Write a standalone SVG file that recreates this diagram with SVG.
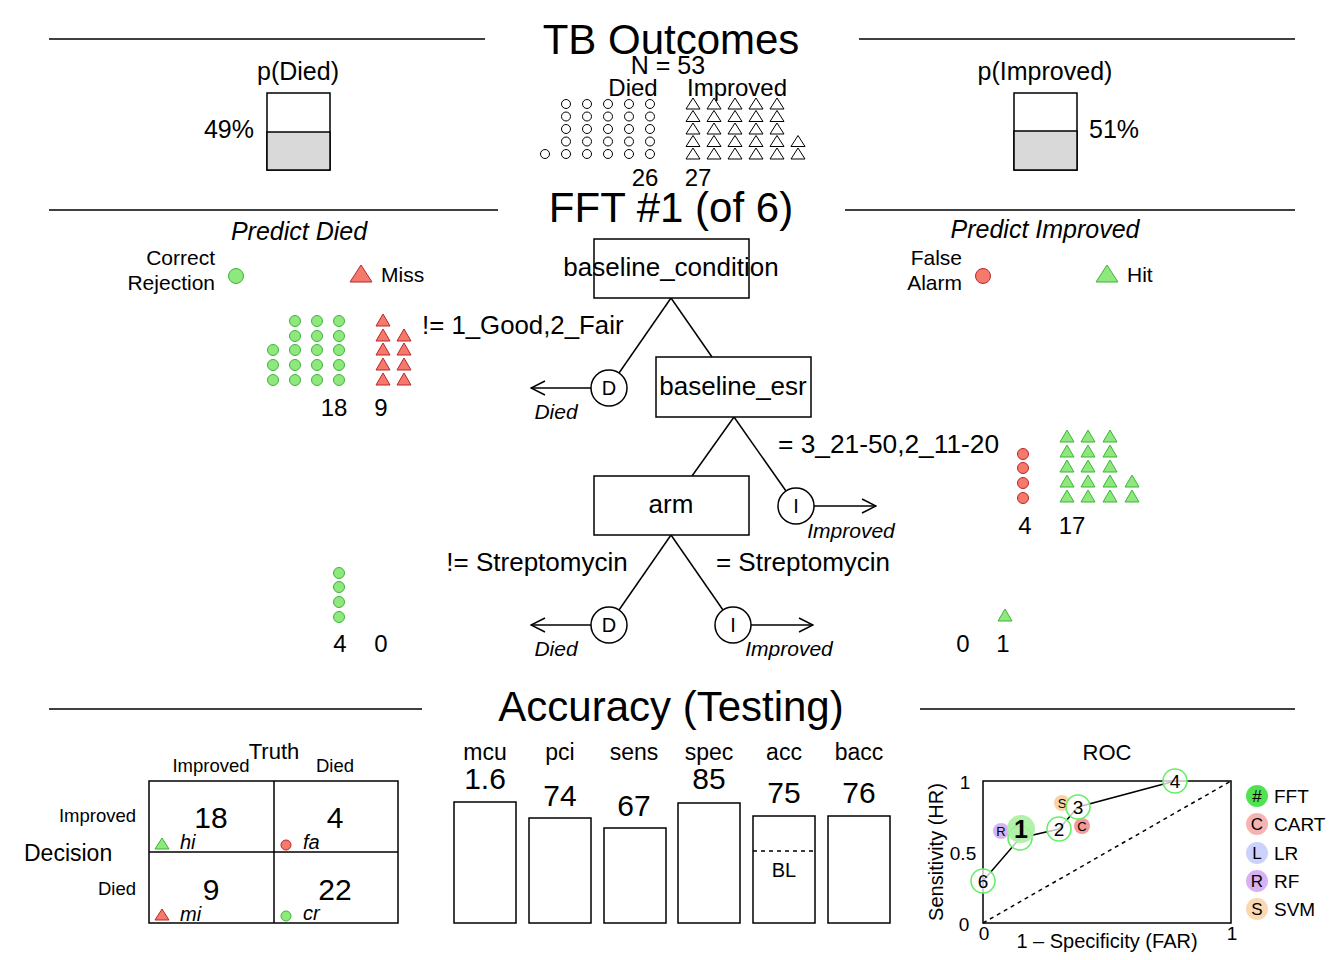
<svg xmlns="http://www.w3.org/2000/svg" width="1344" height="960" viewBox="0 0 1344 960">
<style>
text{font-family:"Liberation Sans",Arial,sans-serif;fill:#000}
.t42{font-size:42px;text-anchor:middle}
.m{text-anchor:middle}
.e{text-anchor:end}
.it{font-style:italic}
.rule{stroke:#000;stroke-width:1.5}
.box{fill:#fff;stroke:#000;stroke-width:1.5}
.ln{stroke:#000;stroke-width:1.5;fill:none}
.wc{fill:#fff;stroke:#000;stroke-width:1}
.g{fill:#8ee87b;stroke:#3db43d;stroke-width:1}
.r{fill:#f57a6c;stroke:#b8262a;stroke-width:1}
.fft{fill:#fff;fill-opacity:0.75;stroke:#66ee66;stroke-width:1.6}
</style>
<defs>
<circle id="oc" r="4.5"/>
<path id="ot" d="M0,-6 L7,5 L-7,5 Z"/>
<circle id="c5" r="5.5"/>
<path id="t7" d="M0,-7 L7,5 L-7,5 Z"/>
<marker id="ah" markerWidth="16" markerHeight="16" refX="15" refY="8" orient="auto" markerUnits="userSpaceOnUse">
<path d="M1,1 L15,8 L1,15" fill="none" stroke="#000" stroke-width="1.5"/>
</marker>
</defs>

<!-- TB Outcomes header -->
<g id="header">
<line class="rule" x1="49" y1="39" x2="485" y2="39"/>
<line class="rule" x1="859" y1="39" x2="1295" y2="39"/>
<text class="t42" x="671" y="54">TB Outcomes</text>
<text class="m" x="668" y="74" font-size="25">N = 53</text>
<text class="m" x="633" y="96" font-size="24">Died</text>
<text class="m" x="737" y="96" font-size="24">Improved</text>
<text class="m" x="645" y="186" font-size="24">26</text>
<text class="m" x="698" y="186" font-size="24">27</text>
</g>

<g id="died-icons" class="wc">
<use href="#oc" x="566" y="104"/><use href="#oc" x="566" y="116.5"/><use href="#oc" x="566" y="129"/><use href="#oc" x="566" y="141.5"/><use href="#oc" x="566" y="154"/>
<use href="#oc" x="587" y="104"/><use href="#oc" x="587" y="116.5"/><use href="#oc" x="587" y="129"/><use href="#oc" x="587" y="141.5"/><use href="#oc" x="587" y="154"/>
<use href="#oc" x="608" y="104"/><use href="#oc" x="608" y="116.5"/><use href="#oc" x="608" y="129"/><use href="#oc" x="608" y="141.5"/><use href="#oc" x="608" y="154"/>
<use href="#oc" x="629" y="104"/><use href="#oc" x="629" y="116.5"/><use href="#oc" x="629" y="129"/><use href="#oc" x="629" y="141.5"/><use href="#oc" x="629" y="154"/>
<use href="#oc" x="650" y="104"/><use href="#oc" x="650" y="116.5"/><use href="#oc" x="650" y="129"/><use href="#oc" x="650" y="141.5"/><use href="#oc" x="650" y="154"/>
<use href="#oc" x="545" y="154"/>
</g>
<g id="improved-icons" class="wc">
<use href="#ot" x="693" y="104"/><use href="#ot" x="693" y="116.5"/><use href="#ot" x="693" y="129"/><use href="#ot" x="693" y="141.5"/><use href="#ot" x="693" y="154"/>
<use href="#ot" x="714" y="104"/><use href="#ot" x="714" y="116.5"/><use href="#ot" x="714" y="129"/><use href="#ot" x="714" y="141.5"/><use href="#ot" x="714" y="154"/>
<use href="#ot" x="735" y="104"/><use href="#ot" x="735" y="116.5"/><use href="#ot" x="735" y="129"/><use href="#ot" x="735" y="141.5"/><use href="#ot" x="735" y="154"/>
<use href="#ot" x="756" y="104"/><use href="#ot" x="756" y="116.5"/><use href="#ot" x="756" y="129"/><use href="#ot" x="756" y="141.5"/><use href="#ot" x="756" y="154"/>
<use href="#ot" x="777" y="104"/><use href="#ot" x="777" y="116.5"/><use href="#ot" x="777" y="129"/><use href="#ot" x="777" y="141.5"/><use href="#ot" x="777" y="154"/>
<use href="#ot" x="798" y="141.5"/><use href="#ot" x="798" y="154"/>
</g>

<g id="p-died">
<text class="m" x="298" y="80" font-size="25">p(Died)</text>
<rect class="box" x="267" y="93" width="63" height="77"/>
<rect x="267" y="132" width="63" height="38" fill="#d9d9d9" stroke="#000" stroke-width="1.5"/>
<text class="e" x="254" y="138" font-size="25">49%</text>
</g>
<g id="p-improved">
<text class="m" x="1045" y="80" font-size="25">p(Improved)</text>
<rect class="box" x="1014" y="93" width="63" height="77"/>
<rect x="1014" y="131" width="63" height="39" fill="#d9d9d9" stroke="#000" stroke-width="1.5"/>
<text x="1089" y="138" font-size="25">51%</text>
</g>

<!-- FFT header -->
<g id="fft-header">
<line class="rule" x1="49" y1="210" x2="498" y2="210"/>
<line class="rule" x1="845" y1="210" x2="1295" y2="210"/>
<text class="t42" x="671" y="222">FFT #1 (of 6)</text>
<text class="m it" x="299" y="240" font-size="25">Predict Died</text>
<text class="m it" x="1045" y="238" font-size="25">Predict Improved</text>
</g>

<g id="legend-left">
<text class="e" x="215" y="265" font-size="21">Correct</text>
<text class="e" x="215" y="290" font-size="21">Rejection</text>
<circle class="g" cx="236" cy="276" r="7.5"/>
<path class="r" d="M361,265 L372,282 L350,282 Z"/>
<text x="381" y="282" font-size="21">Miss</text>
</g>
<g id="legend-right">
<text class="e" x="962" y="265" font-size="21">False</text>
<text class="e" x="962" y="290" font-size="21">Alarm</text>
<circle class="r" cx="983" cy="276" r="7.5"/>
<path class="g" d="M1107,265 L1118,282 L1096,282 Z"/>
<text x="1127" y="282" font-size="21">Hit</text>
</g>

<!-- level 1 icons (left) -->
<g id="level1-icons">
<g class="g">
<use href="#c5" x="273" y="350"/><use href="#c5" x="273" y="365"/><use href="#c5" x="273" y="380"/>
<use href="#c5" x="295" y="321"/><use href="#c5" x="295" y="336"/><use href="#c5" x="295" y="350"/><use href="#c5" x="295" y="365"/><use href="#c5" x="295" y="380"/>
<use href="#c5" x="317" y="321"/><use href="#c5" x="317" y="336"/><use href="#c5" x="317" y="350"/><use href="#c5" x="317" y="365"/><use href="#c5" x="317" y="380"/>
<use href="#c5" x="339" y="321"/><use href="#c5" x="339" y="336"/><use href="#c5" x="339" y="350"/><use href="#c5" x="339" y="365"/><use href="#c5" x="339" y="380"/>
</g>
<g class="r">
<use href="#t7" x="383" y="321"/><use href="#t7" x="383" y="336"/><use href="#t7" x="383" y="350"/><use href="#t7" x="383" y="365"/><use href="#t7" x="383" y="380"/>
<use href="#t7" x="404" y="336"/><use href="#t7" x="404" y="350"/><use href="#t7" x="404" y="365"/><use href="#t7" x="404" y="380"/>
</g>
<text class="m" x="334" y="416" font-size="24">18</text>
<text class="m" x="381" y="416" font-size="24">9</text>
</g>

<!-- level 2 icons (right) -->
<g id="level2-icons">
<g class="r">
<use href="#c5" x="1023" y="454"/><use href="#c5" x="1023" y="468"/><use href="#c5" x="1023" y="483"/><use href="#c5" x="1023" y="498"/>
</g>
<g class="g">
<use href="#t7" x="1067" y="437"/><use href="#t7" x="1067" y="452"/><use href="#t7" x="1067" y="467"/><use href="#t7" x="1067" y="482"/><use href="#t7" x="1067" y="497"/>
<use href="#t7" x="1088" y="437"/><use href="#t7" x="1088" y="452"/><use href="#t7" x="1088" y="467"/><use href="#t7" x="1088" y="482"/><use href="#t7" x="1088" y="497"/>
<use href="#t7" x="1110" y="437"/><use href="#t7" x="1110" y="452"/><use href="#t7" x="1110" y="467"/><use href="#t7" x="1110" y="482"/><use href="#t7" x="1110" y="497"/>
<use href="#t7" x="1132" y="482"/><use href="#t7" x="1132" y="497"/>
</g>
<text class="m" x="1025" y="534" font-size="24">4</text>
<text class="m" x="1072" y="534" font-size="24">17</text>
</g>

<!-- level 3 icons -->
<g id="level3-icons">
<g class="g">
<use href="#c5" x="339" y="573"/><use href="#c5" x="339" y="587"/><use href="#c5" x="339" y="602"/><use href="#c5" x="339" y="617"/>
<use href="#t7" x="1005" y="616"/>
</g>
<text class="m" x="340" y="652" font-size="24">4</text>
<text class="m" x="381" y="652" font-size="24">0</text>
<text class="m" x="963" y="652" font-size="24">0</text>
<text class="m" x="1003" y="652" font-size="24">1</text>
</g>

<!-- connectors -->
<g id="connectors">
<line class="ln" x1="671" y1="298" x2="619" y2="373"/>
<line class="ln" x1="671" y1="298" x2="712" y2="357"/>
<line class="ln" x1="734" y1="417" x2="692" y2="476"/>
<line class="ln" x1="734" y1="417" x2="786" y2="491"/>
<line class="ln" x1="671" y1="535" x2="619" y2="610"/>
<line class="ln" x1="671" y1="535" x2="723" y2="610"/>
<line class="ln" x1="591" y1="388" x2="531" y2="388" marker-end="url(#ah)"/>
<line class="ln" x1="814" y1="506" x2="876" y2="506" marker-end="url(#ah)"/>
<line class="ln" x1="591" y1="625" x2="531" y2="625" marker-end="url(#ah)"/>
<line class="ln" x1="751" y1="625" x2="813" y2="625" marker-end="url(#ah)"/>
<text x="422" y="334" font-size="25.8">!= 1_Good,2_Fair</text>
<text x="778" y="453" font-size="26.3">= 3_21-50,2_11-20</text>
<text class="m" x="537" y="571" font-size="26">!= Streptomycin</text>
<text class="m" x="803" y="571" font-size="26">= Streptomycin</text>
</g>

<!-- tree nodes -->
<g id="node-baseline_condition">
<rect class="box" x="594" y="239" width="155" height="59"/>
<text class="m" x="671" y="276" font-size="26">baseline_condition</text>
</g>
<g id="node-baseline_esr">
<rect class="box" x="656" y="357" width="155" height="60"/>
<text class="m" x="733" y="395" font-size="26">baseline_esr</text>
</g>
<g id="node-arm">
<rect class="box" x="594" y="476" width="155" height="59"/>
<text class="m" x="671" y="513" font-size="26">arm</text>
</g>
<g id="leaf-died-1">
<circle class="box" cx="609" cy="388" r="18"/>
<text class="m" x="609" y="395" font-size="20">D</text>
<text class="m it" x="556" y="419" font-size="21">Died</text>
</g>
<g id="leaf-improved-2">
<circle class="box" cx="796" cy="506" r="18"/>
<text class="m" x="796" y="513" font-size="20">I</text>
<text class="m it" x="851" y="538" font-size="21">Improved</text>
</g>
<g id="leaf-died-3">
<circle class="box" cx="609" cy="625" r="18"/>
<text class="m" x="609" y="632" font-size="20">D</text>
<text class="m it" x="556" y="656" font-size="21">Died</text>
</g>
<g id="leaf-improved-3">
<circle class="box" cx="733" cy="625" r="18"/>
<text class="m" x="733" y="632" font-size="20">I</text>
<text class="m it" x="789" y="656" font-size="21">Improved</text>
</g>

<!-- Accuracy -->
<g id="acc-header">
<line class="rule" x1="49" y1="709" x2="422" y2="709"/>
<line class="rule" x1="920" y1="709" x2="1295" y2="709"/>
<text class="t42" x="671" y="721">Accuracy (Testing)</text>
</g>

<g id="confusion-matrix">
<rect class="box" x="149" y="781" width="249" height="142"/>
<line class="ln" x1="274" y1="781" x2="274" y2="923"/>
<line class="ln" x1="149" y1="852" x2="398" y2="852"/>
<text class="m" x="274" y="759" font-size="22">Truth</text>
<text class="m" x="211" y="772" font-size="18.5">Improved</text>
<text class="m" x="335" y="772" font-size="18.5">Died</text>
<text class="e" x="136" y="822" font-size="18.5">Improved</text>
<text class="e" x="136" y="895" font-size="18.5">Died</text>
<text x="24" y="861" font-size="23">Decision</text>
<text class="m" x="211" y="828" font-size="30">18</text>
<text class="m" x="335" y="828" font-size="30">4</text>
<text class="m" x="211" y="900" font-size="30">9</text>
<text class="m" x="335" y="900" font-size="30">22</text>
<path class="g" d="M162,838 L169,849 L155,849 Z"/>
<text class="it" x="180" y="849" font-size="20">hi</text>
<circle class="r" cx="286" cy="845" r="5"/>
<text class="it" x="303" y="849" font-size="20">fa</text>
<path class="r" d="M162,909 L169,920 L155,920 Z"/>
<text class="it" x="180" y="921" font-size="20">mi</text>
<circle class="g" cx="286" cy="916" r="5"/>
<text class="it" x="303" y="920" font-size="20">cr</text>
</g>

<g id="bars">
<rect class="box" x="454" y="802" width="62" height="121"/>
<rect class="box" x="529" y="818" width="62" height="105"/>
<rect class="box" x="604" y="828" width="62" height="95"/>
<rect class="box" x="678" y="803" width="62" height="120"/>
<rect class="box" x="753" y="816" width="62" height="107"/>
<rect class="box" x="828" y="816" width="62" height="107"/>
<line x1="753" y1="851" x2="815" y2="851" stroke="#000" stroke-width="1.5" stroke-dasharray="4,4"/>
<text class="m" x="784" y="877" font-size="20">BL</text>
<text class="m" x="485" y="760" font-size="23">mcu</text>
<text class="m" x="560" y="760" font-size="23">pci</text>
<text class="m" x="634" y="760" font-size="23">sens</text>
<text class="m" x="709" y="760" font-size="23">spec</text>
<text class="m" x="784" y="760" font-size="23">acc</text>
<text class="m" x="859" y="760" font-size="23">bacc</text>
<text class="m" x="485" y="789" font-size="30">1.6</text>
<text class="m" x="560" y="806" font-size="30">74</text>
<text class="m" x="634" y="816" font-size="30">67</text>
<text class="m" x="709" y="789" font-size="30">85</text>
<text class="m" x="784" y="803" font-size="30">75</text>
<text class="m" x="859" y="803" font-size="30">76</text>
</g>

<g id="roc">
<text class="m" x="1107" y="760" font-size="22">ROC</text>
<rect class="box" x="983" y="781" width="248" height="142"/>
<line x1="983" y1="923" x2="1231" y2="781" stroke="#000" stroke-width="1.5" stroke-dasharray="4,4"/>
<text class="m" x="965" y="789" font-size="19">1</text>
<text class="m" x="963" y="860" font-size="19">0.5</text>
<text class="m" x="964" y="931" font-size="19">0</text>
<text class="m" x="984" y="940" font-size="19">0</text>
<text class="m" x="1232" y="940" font-size="19">1</text>
<text class="m" x="1107" y="948" font-size="20">1 – Specificity (FAR)</text>
<text class="m" x="0" y="0" font-size="20" transform="translate(943,852) rotate(-90)">Sensitivity (HR)</text>
<circle cx="1001" cy="831" r="8" fill="#c9a0f0" fill-opacity="0.8"/>
<text class="m" x="1001" y="836" font-size="13" fill="#333">R</text>
<circle cx="1082" cy="826" r="8" fill="#f08080" fill-opacity="0.8"/>
<text class="m" x="1082" y="831" font-size="13" fill="#333">C</text>
<circle cx="1062" cy="803" r="8" fill="#f8c890" fill-opacity="0.8"/>
<text class="m" x="1062" y="808" font-size="13" fill="#333">S</text>
<polyline class="ln" points="983,881 1020,838 1059,829 1078,807 1175,781"/>
<circle class="fft" cx="983" cy="881" r="12"/>
<text class="m" x="983" y="888" font-size="19">6</text>
<circle class="fft" cx="1020" cy="838" r="12"/>
<circle class="fft" cx="1059" cy="829" r="12"/>
<text class="m" x="1059" y="836" font-size="19">2</text>
<circle class="fft" cx="1078" cy="807" r="12"/>
<text class="m" x="1078" y="814" font-size="19">3</text>
<circle class="fft" cx="1175" cy="781" r="12"/>
<text class="m" x="1175" y="788" font-size="19">4</text>
<circle cx="1021" cy="829" r="14" fill="#a8f0a0" fill-opacity="0.9"/>
<text class="m" x="1021" y="838" font-size="25" font-weight="bold">1</text>
</g>

<g id="roc-legend">
<circle cx="1257" cy="796" r="11" fill="#33dd33" fill-opacity="0.85"/>
<text class="m" x="1257" y="802" font-size="17">#</text>
<text x="1274" y="803" font-size="19">FFT</text>
<circle cx="1257" cy="824" r="11" fill="#f08080" fill-opacity="0.6"/>
<text class="m" x="1257" y="830" font-size="17" fill="#333">C</text>
<text x="1274" y="831" font-size="19">CART</text>
<circle cx="1257" cy="853" r="11" fill="#a8b4f8" fill-opacity="0.6"/>
<text class="m" x="1257" y="859" font-size="17" fill="#333">L</text>
<text x="1274" y="860" font-size="19">LR</text>
<circle cx="1257" cy="881" r="11" fill="#c490f0" fill-opacity="0.7"/>
<text class="m" x="1257" y="887" font-size="17" fill="#333">R</text>
<text x="1274" y="888" font-size="19">RF</text>
<circle cx="1257" cy="909" r="11" fill="#f8c890" fill-opacity="0.7"/>
<text class="m" x="1257" y="915" font-size="17" fill="#333">S</text>
<text x="1274" y="916" font-size="19">SVM</text>
</g>
</svg>
